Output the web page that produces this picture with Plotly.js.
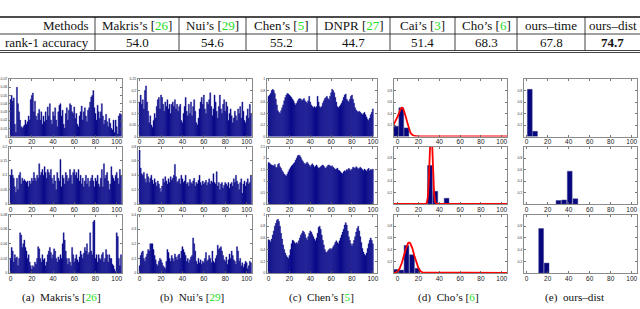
<!DOCTYPE html>
<html><head><meta charset="utf-8">
<script src="https://cdn.plot.ly/plotly-3.0.1.min.js"></script>
<style>html,body{margin:0;padding:0;background:#fff}#chart{width:640px;height:309px}</style>
</head><body><div id="chart"></div>
<script>
// ---------- table data ----------
const methodNames = ["Makris’s","Nui’s","Chen’s","DNPR","Cai’s","Cho’s","ours–time","ours–dist"];
const methodRefs  = ["26","29","5","27","3","6","",""];
const rank1Acc    = [54.0,54.6,55.2,44.7,51.4,68.3,67.8,74.7];
const rowLabels   = ["Methods","rank-1 accuracy"];

// ---------- captions ----------
const capLabels = ["(a)","(b)","(c)","(d)","(e)"];
const capNames  = ["Makris’s","Nui’s","Chen’s","Cho’s","ours–dist"];
const capRefs   = ["26","29","5","6",""];

// ---------- x ticks ----------
const xTicks = [0,20,40,60,80,100];

// ---------- (a) Makris's ----------
const makris1 = [0.045,0.05,0.043,0.047,0.015,0.005,0.06,0.04,0.03,0.02,
 0.012,0.01,0.012,0.014,0.02,0.015,0.018,0.025,0.02,0.045,
 0.05,0.053,0.03,0.043,0.025,0.02,0.028,0.033,0.02,0.03,
 0.015,0.025,0.018,0.03,0.02,0.036,0.025,0.04,0.02,0.015,
 0.03,0.025,0.035,0.02,0.012,0.03,0.038,0.04,0.025,0.032,
 0.015,0.01,0.028,0.035,0.02,0.032,0.04,0.038,0.03,0.028,
 0.036,0.022,0.028,0.015,0.012,0.025,0.03,0.037,0.02,0.03,
 0.035,0.025,0.018,0.032,0.035,0.042,0.048,0.05,0.056,0.035,
 0.028,0.02,0.038,0.03,0.022,0.03,0.04,0.025,0.015,0.02,
 0.027,0.018,0.012,0.022,0.016,0.01,0.008,0.02,0.005,0.02,
 0.012,0.003,0.025,0.028,0.027];
const makris2 = [0.10,0.12,0.10,0.09,0.06,0.04,0.09,0.05,0.10,0.11,
 0.07,0.09,0.08,0.085,0.08,0.075,0.08,0.06,0.08,0.07,
 0.09,0.08,0.11,0.09,0.08,0.10,0.09,0.14,0.10,0.11,
 0.12,0.10,0.13,0.11,0.09,0.12,0.11,0.10,0.12,0.09,
 0.07,0.10,0.08,0.05,0.11,0.09,0.08,0.155,0.06,0.10,
 0.09,0.07,0.11,0.10,0.08,0.09,0.12,0.10,0.07,0.11,
 0.12,0.10,0.11,0.09,0.12,0.08,0.10,0.07,0.09,0.06,
 0.08,0.10,0.07,0.09,0.06,0.08,0.09,0.10,0.08,0.06,
 0.09,0.08,0.10,0.07,0.06,0.09,0.12,0.06,0.14,0.09,
 0.10,0.11,0.08,0.05,0.07,0.13,0.10,0.09,0.08,0.10,
 0.11,0.09,0.07,0.12,0.10];
const makris3 = [0.02,0.035,0.03,0.015,0.025,0.02,0.022,0.01,0.02,0.055,
 0.052,0.035,0.04,0.045,0.035,0.03,0.02,0.025,0.015,0.01,
 0.005,0.01,0.008,0.015,0.012,0.02,0.036,0.033,0.02,0.015,
 0.025,0.018,0.02,0.01,0.015,0.025,0.03,0.035,0.028,0.02,
 0.025,0.033,0.03,0.02,0.015,0.022,0.018,0.025,0.02,0.04,
 0.055,0.045,0.03,0.02,0.012,0.02,0.015,0.01,0.035,0.025,
 0.015,0.02,0.025,0.018,0.015,0.022,0.03,0.025,0.02,0.027,
 0.035,0.03,0.04,0.025,0.028,0.055,0.03,0.025,0.07,0.072,
 0.02,0.025,0.015,0.025,0.02,0.018,0.025,0.028,0.015,0.02,
 0.032,0.025,0.015,0.025,0.02,0.02,0.012,0.01,0.005,0.002,
 0.055,0.05,0.02,0.01,0.025];

// ---------- (b) Nui's ----------
const nui1 = [0.15,0.18,0.14,0.16,0.12,0.20,0.22,0.15,0.11,0.06,
 0.09,0.05,0.04,0.07,0.10,0.08,0.13,0.16,0.17,0.12,
 0.18,0.17,0.14,0.11,0.15,0.13,0.16,0.12,0.14,0.10,
 0.14,0.15,0.13,0.16,0.12,0.14,0.11,0.13,0.14,0.07,
 0.06,0.10,0.13,0.17,0.11,0.09,0.14,0.10,0.15,0.09,
 0.13,0.16,0.11,0.06,0.05,0.08,0.12,0.15,0.17,0.14,
 0.18,0.12,0.10,0.15,0.14,0.16,0.19,0.13,0.09,0.12,
 0.18,0.15,0.11,0.08,0.13,0.18,0.12,0.10,0.14,0.16,
 0.11,0.15,0.13,0.07,0.10,0.12,0.09,0.06,0.08,0.11,
 0.09,0.07,0.12,0.10,0.13,0.08,0.15,0.11,0.07,0.06,
 0.09,0.12,0.08,0.14,0.10];
const nui2 = [0.75,0.50,0.42,0.40,0.44,0.35,0.30,0.42,0.38,0.30,
 0.36,0.40,0.33,0.28,0.35,0.30,0.25,0.32,0.28,0.22,
 0.17,0.25,0.35,0.30,0.38,0.32,0.28,0.35,0.30,0.38,
 0.33,0.36,0.40,0.55,0.38,0.30,0.32,0.35,0.28,0.40,
 0.35,0.30,0.32,0.40,0.28,0.30,0.25,0.34,0.30,0.28,
 0.32,0.36,0.25,0.30,0.28,0.33,0.40,0.30,0.26,0.32,
 0.28,0.30,0.33,0.26,0.30,0.35,0.28,0.32,0.30,0.42,
 0.30,0.28,0.45,0.25,0.30,0.20,0.28,0.30,0.22,0.26,
 0.30,0.28,0.25,0.30,0.22,0.28,0.30,0.25,0.35,0.30,
 0.40,0.32,0.28,0.20,0.30,0.35,0.15,0.28,0.32,0.25,
 0.30,0.35,0.28,0.30,0.40];
const nui3 = [0.05,0.12,0.14,0.15,0.10,0.08,0.11,0.13,0.16,0.15,
 0.20,0.20,0.20,0.16,0.12,0.09,0.06,0.05,0.08,0.10,
 0.09,0.07,0.05,0.04,0.03,0.08,0.16,0.14,0.10,0.08,
 0.12,0.10,0.08,0.13,0.11,0.09,0.12,0.13,0.10,0.15,
 0.18,0.16,0.14,0.12,0.08,0.10,0.07,0.09,0.11,0.12,
 0.24,0.20,0.15,0.08,0.06,0.10,0.07,0.09,0.06,0.08,
 0.07,0.10,0.14,0.08,0.09,0.12,0.10,0.07,0.15,0.08,
 0.07,0.10,0.12,0.19,0.16,0.17,0.18,0.15,0.12,0.09,
 0.08,0.11,0.06,0.09,0.13,0.10,0.15,0.12,0.09,0.08,
 0.06,0.18,0.15,0.08,0.10,0.05,0.07,0.04,0.06,0.08,
 0.07,0.03,0.05,0.08,0.07];

// ---------- (c) Chen's ----------
const chen1 = [0.70,0.72,0.75,0.80,0.82,0.80,0.75,0.65,0.55,0.45,
 0.42,0.40,0.45,0.50,0.55,0.62,0.68,0.72,0.75,0.74,
 0.72,0.70,0.68,0.65,0.62,0.58,0.55,0.58,0.62,0.65,
 0.66,0.65,0.62,0.64,0.66,0.62,0.60,0.58,0.62,0.70,
 0.60,0.55,0.52,0.50,0.52,0.50,0.52,0.70,0.60,0.52,
 0.50,0.52,0.58,0.62,0.66,0.68,0.70,0.66,0.64,0.70,
 0.76,0.82,0.80,0.76,0.68,0.60,0.52,0.50,0.52,0.55,
 0.58,0.62,0.68,0.72,0.74,0.65,0.62,0.60,0.65,0.70,
 0.72,0.65,0.58,0.50,0.46,0.44,0.42,0.44,0.42,0.40,
 0.38,0.40,0.42,0.38,0.34,0.30,0.28,0.32,0.38,0.42,
 0.48];
const chen2 = [1.80,1.78,1.72,1.70,1.68,1.65,1.72,1.60,1.58,1.72,
 1.76,1.62,1.55,1.45,1.38,1.30,1.25,1.22,1.30,1.40,
 1.50,1.58,1.65,1.70,1.75,1.80,1.90,2.00,2.10,2.12,
 2.10,2.02,1.92,1.85,1.78,1.72,1.76,1.82,1.75,1.68,
 1.62,1.70,1.75,1.68,1.60,1.65,1.70,1.62,1.55,1.58,
 1.62,1.66,1.70,1.65,1.58,1.55,1.62,1.68,1.70,1.66,
 1.62,1.66,1.60,1.55,1.50,1.52,1.56,1.48,1.45,1.40,
 1.35,1.32,1.40,1.45,1.42,1.50,1.48,1.55,1.50,1.45,
 1.52,1.60,1.58,1.55,1.62,1.58,1.52,1.55,1.60,1.55,
 1.50,1.45,1.52,1.48,1.42,1.50,1.55,1.45,1.50,1.48,
 1.52];
const chen3 = [0.57,0.56,0.53,0.58,0.65,0.72,0.80,0.85,0.90,0.92,
 0.88,0.80,0.68,0.58,0.48,0.40,0.34,0.30,0.27,0.25,
 0.30,0.40,0.50,0.56,0.55,0.52,0.50,0.52,0.50,0.55,
 0.60,0.65,0.68,0.72,0.70,0.66,0.60,0.56,0.62,0.68,
 0.72,0.70,0.66,0.62,0.58,0.55,0.60,0.68,0.78,0.80,
 0.75,0.65,0.56,0.48,0.40,0.36,0.35,0.38,0.40,0.42,
 0.40,0.42,0.45,0.48,0.52,0.55,0.52,0.50,0.55,0.60,
 0.65,0.70,0.75,0.82,0.86,0.82,0.72,0.62,0.56,0.50,
 0.46,0.50,0.56,0.62,0.70,0.76,0.80,0.72,0.62,0.52,
 0.42,0.36,0.32,0.30,0.34,0.42,0.50,0.56,0.60,0.56,
 0.50];

// ---------- (d) Cho's : histogram bars + fitted curve ----------
const cho1BinX = [-1.5,3.5,8.5];        const cho1BinY = [0.18,0.50,0.15];
const cho2BinX = [31.0,36.2,47.0];      const cho2BinY = [0.67,0.22,0.10];
const cho3BinX = [-1.5,3.5,8.5,13.8,19.0]; const cho3BinY = [0.06,0.05,0.47,0.31,0.08];
const cho1FitX = [-4,-3,-2,-1,0,1,2,3,4,5,6,7,8,9,10,11,12,13,14,16,20,105];
const cho1FitY = [0.20,0.23,0.27,0.31,0.35,0.40,0.45,0.48,0.50,0.49,0.45,0.40,0.33,0.26,0.19,0.13,0.08,0.05,0.03,0.01,0,0];
const cho2FitX = [-4,27,28,29,30,31,32,33,34,35,36,37,105];
const cho2FitY = [0,0,0.02,0.12,0.45,1.0,1.4,1.1,0.55,0.18,0.04,0,0];
const cho3FitX = [-4,-2,0,2,4,6,8,10,11,12,14,16,18,20,22,24,105];
const cho3FitY = [0,0.005,0.03,0.08,0.17,0.30,0.42,0.51,0.52,0.51,0.43,0.30,0.17,0.08,0.03,0.01,0];

// ---------- (e) ours-dist ----------
const ours1BinX = [3.0,8.0];                const ours1BinY = [0.82,0.09];
const ours2BinX = [30.3,35.6,41.0,46.4];    const ours2BinY = [0.06,0.07,0.57,0.09];
const ours3BinX = [13.8,19.0];              const ours3BinY = [0.76,0.17];

// ---------- panel y-axis settings ----------
const yRanges = [[0,0.07],[0,0.25],[0,1],[0,1],[0,1],
                 [0,0.2],[0,0.8],[0,2.5],[0,1],[0,1],
                 [0,0.08],[0,0.4],[0,1],[0,1],[0,1]];
const yTicks = [[0,0.01,0.02,0.03,0.04,0.05,0.06,0.07],[0,0.05,0.1,0.15,0.2,0.25],[0,0.2,0.4,0.6,0.8,1],[0.2,0.4,0.6,0.8],[0.2,0.4,0.6,0.8],
                [0,0.05,0.1,0.15,0.2],[0,0.2,0.4,0.6,0.8],[0,0.5,1,1.5,2,2.5],[0.2,0.4,0.6,0.8],[0.2,0.4,0.6,0.8],
                [0,0.02,0.04,0.06,0.08],[0,0.1,0.2,0.3,0.4],[0,0.2,0.4,0.6,0.8,1],[0.2,0.4,0.6,0.8],[0.2,0.4,0.6,0.8]];

// ---------- build ----------
const W=640, H=309;
const colPx = [[9,122],[138,252],[267,377],[394,507],[524,637]];
const rowPx = [[79,136.5],[146.5,204],[214.5,273]];
const xRanges = [[-1.5,105],[-1.5,105],[-1.5,104],[-3.5,105],[-2.5,105]];
const BLUE = '#06067e';

const denseData = [[makris1,nui1,chen1],[makris2,nui2,chen2],[makris3,nui3,chen3]];
const choBins = [[cho1BinX,cho1BinY],[cho2BinX,cho2BinY],[cho3BinX,cho3BinY]];
const choFits = [[cho1FitX,cho1FitY],[cho2FitX,cho2FitY],[cho3FitX,cho3FitY]];
const oursBins = [[ours1BinX,ours1BinY],[ours2BinX,ours2BinY],[ours3BinX,ours3BinY]];

const traces = [];
const layout = {
  width:W, height:H, margin:{l:0,r:0,t:0,b:0}, showlegend:false,
  paper_bgcolor:'#fff', plot_bgcolor:'#fff', bargap:0,
  shapes:[], annotations:[]
};
const px = x => x/W, py = y => 1 - y/H;

for (let r=0;r<3;r++){
  for (let c=0;c<5;c++){
    const n = r*5+c+1;
    const xa = n===1?'x':'x'+n, ya = n===1?'y':'y'+n;
    if (c<3){
      const d = denseData[r][c];
      traces.push({type:'bar', x:d.map((_,i)=>i), y:d, width:1, xaxis:xa, yaxis:ya,
        marker:{color:BLUE, line:{color:'#14149a', width:0.4}}, hoverinfo:'skip'});
    } else if (c===3){
      traces.push({type:'bar', x:choBins[r][0], y:choBins[r][1], width:4.6, xaxis:xa, yaxis:ya,
        marker:{color:BLUE, line:{color:'#444488', width:0.5}}, hoverinfo:'skip'});
      traces.push({type:'scatter', mode:'lines', x:choFits[r][0], y:choFits[r][1], xaxis:xa, yaxis:ya,
        line:{color:'#ff0000', width:1.8}, hoverinfo:'skip'});
    } else {
      traces.push({type:'bar', x:oursBins[r][0], y:oursBins[r][1], width:4.6, xaxis:xa, yaxis:ya,
        marker:{color:BLUE, line:{color:'#444488', width:0.5}}, hoverinfo:'skip'});
    }
    const axCommon = {showline:true, linecolor:'#8a8a8a', linewidth:1, mirror:'ticks',
      ticks:'inside', ticklen:2, tickcolor:'#555', tickwidth:0.8, showgrid:false, zeroline:false, fixedrange:true};
    layout['xaxis'+(n===1?'':n)] = Object.assign({}, axCommon, {
      domain:[px(colPx[c][0]), px(colPx[c][1])], anchor:ya, range:xRanges[c],
      tickvals:xTicks, tickfont:{family:'Liberation Sans, Arial', size:6.5, color:'#222'}, ticklabelstandoff:-1});
    layout['yaxis'+(n===1?'':n)] = Object.assign({}, axCommon, {
      domain:[py(rowPx[r][1]), py(rowPx[r][0])], anchor:xa, range:yRanges[n-1],
      tickvals:yTicks[n-1], tickfont:{family:'Liberation Sans, Arial', size:3.5, color:'#333'}, ticklabelstandoff:0});
  }
}

// ---------- table ----------
const tblX = [0,95,179,246,317,390,455,517,585,640];
const tblTop=17, tblMid=34, tblBot=50.5;
const line = (x0,y0,x1,y1,w)=>layout.shapes.push({type:'line',xref:'paper',yref:'paper',
  x0:px(x0),y0:py(y0),x1:px(x1),y1:py(y1),line:{color:'#111',width:w}});
line(0,tblTop,640,tblTop,1.3);
line(0,tblMid,640,tblMid,0.8);
line(0,tblBot,640,tblBot,0.8);
line(0,tblBot+2,640,tblBot+2,0.8);
for (let i=1;i<tblX.length-1;i++) line(tblX[i],tblTop,tblX[i],tblBot,0.8);

const serif = 'Liberation Serif, Times New Roman, serif';
const ann = (x,y,text,anchor,size)=>layout.annotations.push({xref:'paper',yref:'paper',x:px(x),y:py(y),
  text:text, showarrow:false, xanchor:anchor||'center', yanchor:'middle',
  font:{family:serif,size:size||13,color:'#111'}});
ann(91,25.5,rowLabels[0],'right');
ann(91,42.5,rowLabels[1],'right');
const best = Math.max(...rank1Acc);
for (let i=0;i<methodNames.length;i++){
  const cx=(tblX[i+1]+tblX[i+2])/2;
  const ref = methodRefs[i] ? ' [<span style="color:#22dd22">'+methodRefs[i]+'</span>]' : '';
  ann(cx,25.5,methodNames[i]+ref);
  const v = rank1Acc[i].toFixed(1);
  ann(cx,42.5, rank1Acc[i]===best ? '<b>'+v+'</b>' : v);
}

// ---------- captions ----------
const capX = [61,192,321,448,575];
for (let c=0;c<5;c++){
  const ref = capRefs[c] ? ' [<span style="color:#22dd22">'+capRefs[c]+'</span>]' : '';
  ann(capX[c],297.5,capLabels[c]+'&nbsp; '+capNames[c]+ref,'center',11.2);
}

Plotly.newPlot('chart', traces, layout, {staticPlot:true, displayModeBar:false});
</script>
</body></html>
